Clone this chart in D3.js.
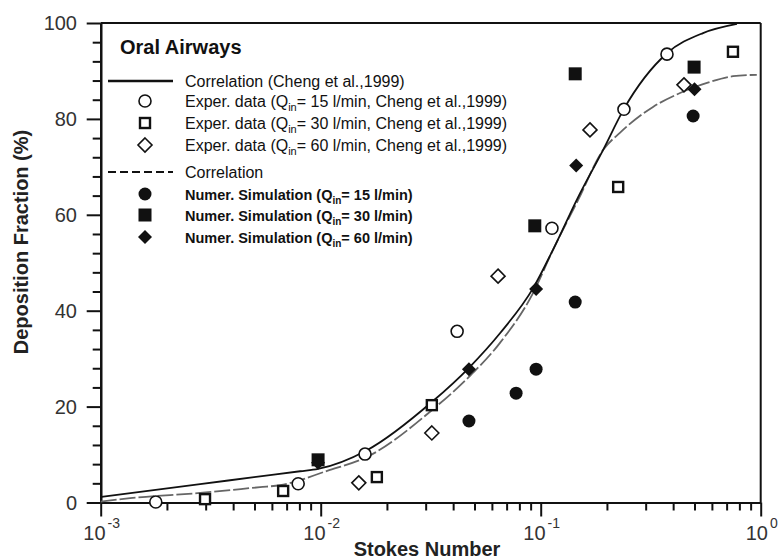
<!DOCTYPE html>
<html><head><meta charset="utf-8">
<script src="https://cdn.jsdelivr.net/npm/d3@7/dist/d3.min.js"></script>
<style>
html,body{margin:0;padding:0;background:#fff;}
svg{display:block;font-family:"Liberation Sans",Arial,sans-serif;}
</style></head><body>
<svg id="chart" width="782" height="560"></svg>
<script>
// ---- data ----
const xMajorTicks = [0.001, 0.01, 0.1, 1];
const xTickExponents = ["-3", "-2", "-1", "0"];
const yMajorTicks = [0, 20, 40, 60, 80, 100];

const correlationChengX = [0.001, 0.00283, 0.0053, 0.00806, 0.00973, 0.01623, 0.0321, 0.0472, 0.0653, 0.0924, 0.1137, 0.148, 0.192, 0.239, 0.375, 0.547, 0.78];
const correlationChengY = [1.15, 3.83, 5.44, 6.52, 7.0, 10.9, 21.0, 28.1, 35.3, 44.7, 52.7, 63.7, 73.5, 82.1, 93.7, 97.9, 99.8];

const correlationX = [0.001, 0.00136, 0.00283, 0.0053, 0.00653, 0.0107, 0.01623, 0.0321, 0.0472, 0.0653, 0.0924, 0.1137, 0.148, 0.192, 0.229, 0.324, 0.43, 0.57, 0.748, 0.96];
const correlationY = [0.2, 0.9, 2.0, 3.2, 3.6, 6.6, 9.5, 19.3, 26.2, 33.3, 43.7, 52.7, 63.1, 73.5, 77.1, 82.5, 85.4, 87.5, 88.9, 89.2];

const exp15X = [0.00178, 0.0079, 0.0159, 0.0417, 0.1125, 0.239, 0.375];
const exp15Y = [0.1, 3.9, 10.1, 35.7, 57.2, 82.0, 93.5];

const exp30X = [0.00298, 0.00675, 0.018, 0.032, 0.225, 0.748];
const exp30Y = [0.7, 2.4, 5.3, 20.3, 65.8, 94.0];

const exp60X = [0.0149, 0.032, 0.064, 0.1675, 0.448];
const exp60Y = [4.1, 14.5, 47.2, 77.7, 87.1];

const num15X = [0.0472, 0.0773, 0.0953, 0.1435, 0.493];
const num15Y = [17.0, 22.8, 27.8, 41.8, 80.6];

const num30X = [0.00973, 0.094, 0.1435, 0.498];
const num30Y = [8.9, 57.7, 89.4, 90.8];

const num60X = [0.00973, 0.0472, 0.0953, 0.145, 0.50];
const num60Y = [8.3, 27.8, 44.5, 70.3, 86.2];

const legendLabels = [
  ["Correlation (Cheng et al.,1999)"],
  ["Exper. data (Q", "in", "= 15 l/min, Cheng et al.,1999)"],
  ["Exper. data (Q", "in", "= 30 l/min, Cheng et al.,1999)"],
  ["Exper. data (Q", "in", "= 60 l/min, Cheng et al.,1999)"],
  ["Correlation"],
  ["Numer. Simulation (Q", "in", "= 15 l/min)"],
  ["Numer. Simulation (Q", "in", "= 30 l/min)"],
  ["Numer. Simulation (Q", "in", "= 60 l/min)"]
];
const legendKinds = ["solid", "ocircle", "osquare", "odiamond", "dashed", "fcircle", "fsquare", "fdiamond"];

// ---- layout ----
const svg = d3.select("#chart");
const L = 100.7, R = 760.7, T = 23, B = 502.5;
const x = d3.scaleLog().domain([0.001, 1]).range([L, R]);
const y = d3.scaleLinear().domain([0, 100]).range([B, T]);
const ink = "#111";

// minor ticks
const xMinor = [];
[0.001, 0.01, 0.1].forEach(d => { for (let k = 2; k <= 9; k++) xMinor.push(d * k); });
const yMinor = d3.range(0, 101, 4).filter(v => v % 20 !== 0);

// x axis
const gx = svg.append("g").attr("transform", `translate(0,${B})`);
gx.call(d3.axisBottom(x).tickValues(xMinor).tickSize(8).tickSizeOuter(0).tickFormat(""));
gx.append("g").call(d3.axisBottom(x).tickValues(xMajorTicks).tickSize(14).tickSizeOuter(0).tickFormat(""));
// y axis
const gy = svg.append("g").attr("transform", `translate(${L},0)`);
gy.call(d3.axisLeft(y).tickValues(yMinor).tickSize(8).tickSizeOuter(0).tickFormat(""));
gy.append("g").call(d3.axisLeft(y).tickValues(yMajorTicks).tickSize(14).tickSizeOuter(0).tickFormat(""));
svg.selectAll(".domain").attr("stroke", ink).attr("stroke-width", 2.2);
svg.selectAll(".tick line").attr("stroke", ink).attr("stroke-width", 2);

// frame top/right
svg.append("line").attr("x1", L).attr("x2", R).attr("y1", y(100)).attr("y2", y(100)).attr("stroke", ink).attr("stroke-width", 1.8);
svg.append("line").attr("x1", R).attr("x2", R).attr("y1", y(100)).attr("y2", y(0)).attr("stroke", ink).attr("stroke-width", 2);

// tick labels
svg.append("g").selectAll("text").data(yMajorTicks).join("text")
  .attr("x", 77).attr("y", d => y(d) + 7).attr("text-anchor", "end")
  .attr("font-size", 20).attr("fill", "#333").text(d => d);
const xl = svg.append("g").selectAll("text").data(xMajorTicks).join("text")
  .attr("x", d => x(d) + 1).attr("y", 540).attr("text-anchor", "middle")
  .attr("font-size", 20).attr("fill", "#333");
xl.append("tspan").text("10");
xl.append("tspan").attr("font-size", 14).attr("dy", -12).attr("dx", 2).text((d, i) => xTickExponents[i]);

// axis titles
svg.append("text").attr("x", 427).attr("y", 556).attr("text-anchor", "middle")
  .attr("font-size", 20).attr("font-weight", "bold").attr("fill", "#222").text("Stokes Number");
svg.append("text").attr("transform", "translate(28,242) rotate(-90)").attr("text-anchor", "middle")
  .attr("font-size", 20).attr("font-weight", "bold").attr("fill", "#222").text("Deposition Fraction (%)");

// curves
const line = d3.line().x(d => x(d[0])).y(d => y(d[1])).curve(d3.curveMonotoneX);
svg.append("path").datum(correlationX.map((v, i) => [v, correlationY[i]]))
  .attr("d", line).attr("fill", "none").attr("stroke", "#666").attr("stroke-width", 1.8).attr("stroke-dasharray", "16,3");
svg.append("path").datum(correlationChengX.map((v, i) => [v, correlationChengY[i]]))
  .attr("d", line).attr("fill", "none").attr("stroke", ink).attr("stroke-width", 1.8);

// markers
function marker(g, kind, cx, cy) {
  const filled = kind[0] === "f";
  const shape = kind.slice(1);
  let el;
  if (shape === "circle") el = g.append("circle").attr("cx", cx).attr("cy", cy).attr("r", filled ? 6.5 : 6);
  else if (shape === "square") { const s = filled ? 13 : 10; el = g.append("rect").attr("x", cx - s / 2).attr("y", cy - s / 2).attr("width", s).attr("height", s); }
  else { const r = 7; el = g.append("path").attr("d", `M${cx},${cy - r}L${cx + r},${cy}L${cx},${cy + r}L${cx - r},${cy}Z`); }
  if (filled) el.attr("fill", ink).attr("stroke", "none");
  else el.attr("fill", "#fff").attr("stroke", ink).attr("stroke-width", shape === "square" ? 2.4 : 1.6);
}
const series = [
  ["ocircle", exp15X, exp15Y], ["osquare", exp30X, exp30Y], ["odiamond", exp60X, exp60Y],
  ["fcircle", num15X, num15Y], ["fsquare", num30X, num30Y], ["fdiamond", num60X, num60Y]
];
const gm = svg.append("g");
series.forEach(([k, xs, ys]) => xs.forEach((v, i) => marker(gm, k, x(v), y(ys[i]))));

// legend
svg.append("text").attr("x", 120).attr("y", 54).attr("font-size", 20).attr("font-weight", "bold").attr("fill", ink).text("Oral Airways");
const legY = [81, 101, 123, 145, 172, 194, 215, 237];
const lg = svg.append("g");
legendKinds.forEach((k, i) => {
  const yy = legY[i];
  if (k === "solid") lg.append("line").attr("x1", 108).attr("x2", 173).attr("y1", yy).attr("y2", yy).attr("stroke", ink).attr("stroke-width", 2.6);
  else if (k === "dashed") lg.append("line").attr("x1", 108).attr("x2", 173).attr("y1", yy).attr("y2", yy).attr("stroke", ink).attr("stroke-width", 1.8).attr("stroke-dasharray", "8,4");
  else marker(lg, k, 145, yy);
  const isNum = i >= 5;
  const t = lg.append("text").attr("x", 185).attr("y", yy + 5.5).attr("fill", ink)
    .attr("font-size", isNum ? 14.5 : 16).attr("font-weight", isNum ? "bold" : "normal");
  const parts = legendLabels[i];
  t.append("tspan").text(parts[0]);
  if (parts.length > 1) {
    t.append("tspan").attr("font-size", isNum ? 10 : 11).attr("dy", 4).text(parts[1]);
    t.append("tspan").attr("dy", -4).text(parts[2]);
  }
});
</script>
</body></html>
